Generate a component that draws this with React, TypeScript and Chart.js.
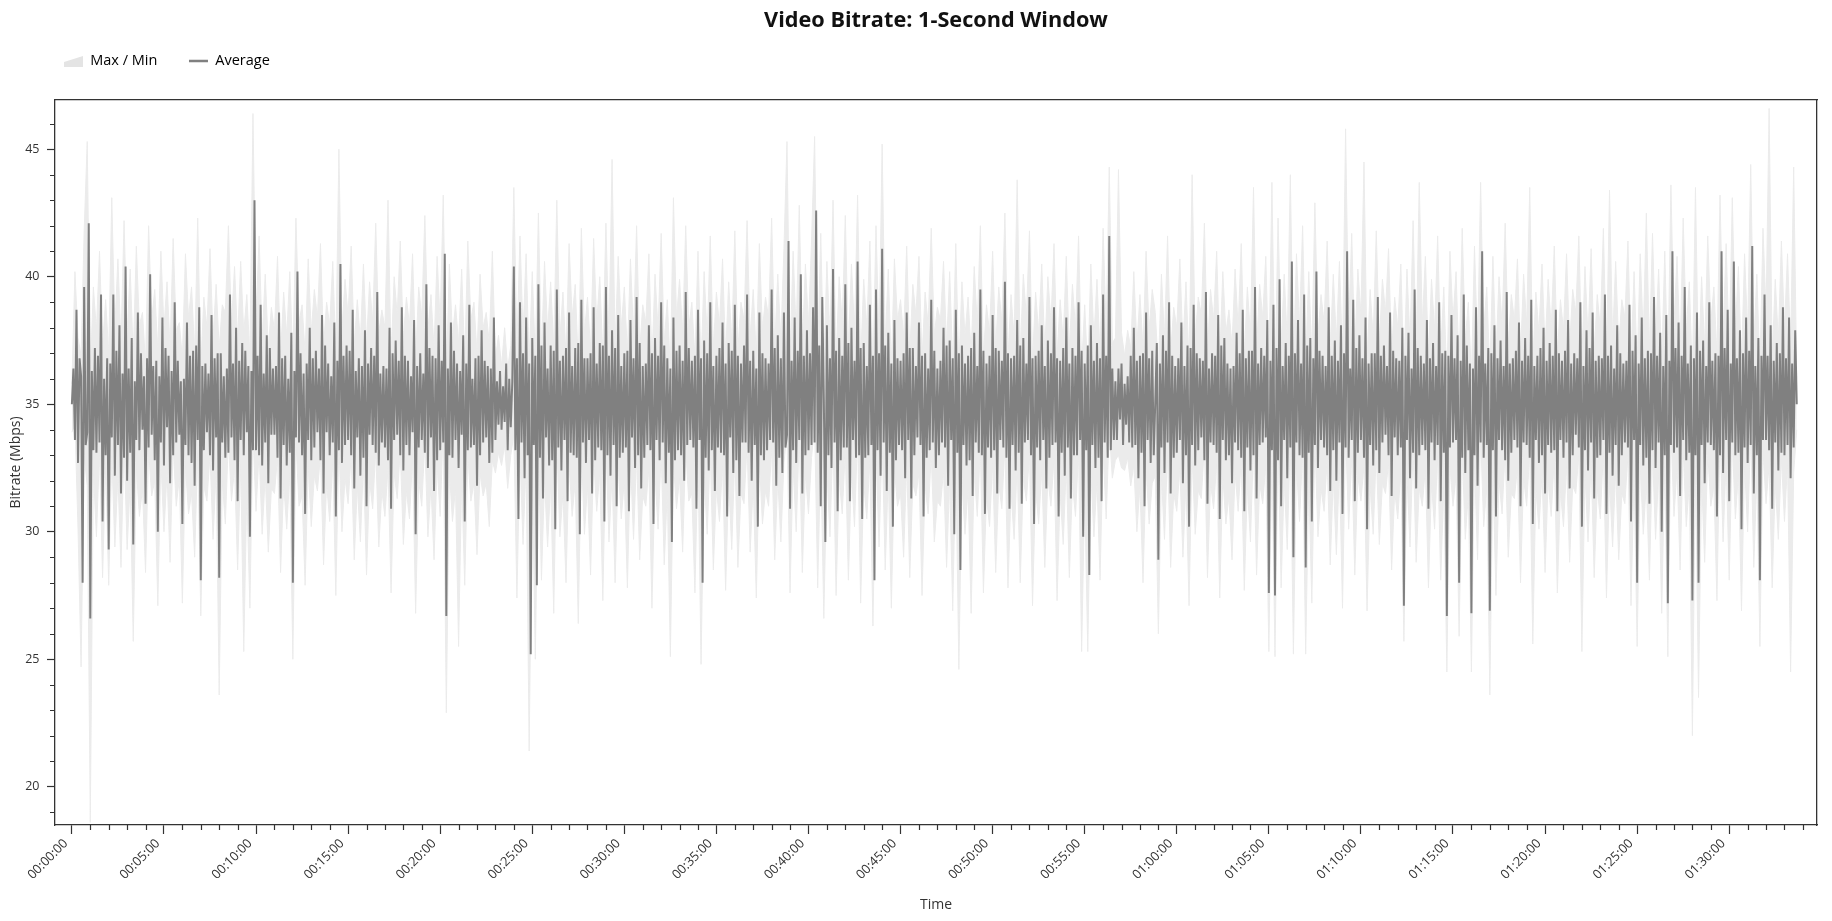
import React, { useEffect, useRef } from 'react';
import { Chart, registerables } from 'chart.js';

Chart.register(...registerables);

const TITLE = 'Video Bitrate: 1-Second Window';
const X_TITLE = 'Time';
const Y_TITLE = 'Bitrate (Mbps)';
const LEGEND_BAND = 'Max / Min';
const LEGEND_AVG = 'Average';

// Average: one value every 5 s (rows = one minute), 00:00:00 .. 01:33:40
const AVG_STEP_S = 5;
// Max / Min: one value every 10 s (rows = one minute), 00:00:00 .. 01:33:40
const BAND_STEP_S = 10;

const AVG = [
  35.0, 36.4, 33.6, 38.7, 32.7, 36.8, 36.1, 28.0, 39.6, 33.4, 33.9, 42.1,
  26.6, 36.3, 33.2, 37.2, 33.1, 36.9, 33.5, 39.3, 30.4, 36.0, 33.0, 36.8,
  29.3, 36.6, 33.7, 39.3, 32.2, 37.1, 33.4, 38.1, 31.5, 36.2, 32.9, 40.4,
  32.0, 36.4, 33.1, 37.6, 29.5, 35.9, 33.6, 38.6, 33.2, 37.0, 34.0, 36.1,
  31.1, 36.8, 33.3, 40.1, 33.8, 36.5, 32.8, 36.7, 30.0, 36.1, 33.5, 38.4,
  32.6, 37.2, 34.1, 36.9, 31.9, 36.3, 33.0, 39.0, 33.5, 36.7, 33.8, 35.9,
  30.3, 36.0, 33.4, 38.2, 33.0, 36.9, 32.7, 37.1, 31.8, 37.3, 33.6, 38.8,
  28.1, 36.5, 33.2, 36.6, 33.9, 36.2, 33.0, 38.5, 32.4, 36.8, 33.7, 37.0,
  28.2, 37.0, 33.5, 36.1, 32.9, 36.4, 33.1, 39.3, 33.7, 36.6, 32.8, 38.0,
  31.2, 36.7, 33.6, 37.4, 33.0, 37.1, 33.9, 36.5, 29.8, 36.3, 33.2, 43.0,
  33.2, 36.9, 33.0, 38.9, 32.6, 36.2, 33.5, 37.7, 31.9, 37.2, 33.8, 36.4,
  33.8, 36.5, 32.9, 38.6, 31.3, 36.8, 33.4, 36.9, 32.6, 36.0, 33.1, 37.8,
  28.0, 36.3, 33.7, 40.2, 33.5, 37.0, 33.0, 36.2, 30.7, 36.6, 33.6, 38.0,
  32.8, 36.8, 33.3, 37.1, 33.9, 36.4, 32.8, 38.5, 31.5, 37.3, 33.9, 36.6,
  33.0, 36.1, 33.5, 38.2, 30.6, 36.7, 33.2, 40.5, 32.7, 36.9, 33.4, 37.3,
  33.6, 37.1, 33.0, 38.7, 31.7, 36.3, 33.7, 36.8, 32.2, 36.5, 32.9, 37.9,
  31.0, 36.6, 33.8, 37.2, 33.4, 36.9, 33.1, 39.4, 32.6, 36.2, 33.5, 36.5,
  33.3, 36.4, 32.8, 38.0, 30.9, 37.0, 33.6, 37.5, 33.8, 36.7, 33.0, 38.8,
  32.4, 36.9, 33.4, 36.7, 33.0, 36.1, 33.9, 38.3, 29.9, 36.5, 33.3, 37.0,
  33.6, 36.2, 33.1, 39.7, 32.5, 37.2, 33.7, 36.9, 31.6, 36.8, 32.8, 38.1,
  33.2, 36.7, 33.5, 40.9, 26.7, 36.4, 33.0, 38.2, 32.9, 37.1, 33.6, 36.6,
  32.5, 36.3, 33.8, 37.7, 30.4, 36.6, 33.2, 38.9, 33.3, 36.0, 33.4, 36.8,
  31.8, 36.9, 33.0, 37.9, 33.5, 36.7, 33.7, 36.5, 32.7, 36.4, 33.1, 38.4,
  33.6, 35.9, 34.2, 36.3, 34.0, 35.7, 34.3, 36.6, 33.2, 36.0, 34.1, 35.9,
  40.4, 33.2, 36.8, 30.5, 39.0, 33.5, 37.0, 32.1, 38.4, 33.0, 36.6, 25.2,
  37.6, 33.4, 36.9, 27.9, 39.7, 32.9, 37.3, 31.3, 38.2, 33.7, 36.4, 32.6,
  37.3, 32.8, 37.1, 30.1, 39.5, 33.3, 36.7, 32.4, 36.9, 33.6, 37.2, 31.2,
  38.6, 33.1, 36.5, 33.0, 37.2, 32.9, 37.4, 29.9, 39.1, 33.5, 36.8, 32.7,
  36.8, 33.6, 37.0, 31.5, 38.8, 32.8, 36.6, 33.3, 37.4, 33.2, 37.3, 30.4,
  39.6, 33.0, 36.9, 32.2, 37.9, 33.4, 37.2, 31.0, 38.5, 32.9, 36.5, 33.1,
  37.0, 33.3, 37.1, 30.8, 38.3, 33.7, 36.8, 32.5, 39.2, 33.0, 37.4, 31.7,
  36.5, 32.9, 36.6, 33.4, 38.1, 33.2, 37.0, 30.3, 37.6, 33.6, 36.9, 32.8,
  39.0, 33.5, 37.3, 31.9, 36.8, 33.1, 36.4, 29.6, 38.4, 32.8, 37.1, 33.2,
  37.3, 33.0, 36.7, 32.0, 39.4, 33.4, 37.2, 33.6, 36.7, 33.3, 36.9, 30.9,
  38.7, 33.6, 36.8, 28.0, 37.5, 32.9, 37.0, 32.4, 39.0, 33.2, 36.5, 31.6,
  36.9, 33.3, 37.2, 33.1, 38.2, 33.0, 36.6, 30.6, 37.4, 33.7, 37.1, 32.3,
  38.9, 32.8, 36.9, 31.4, 36.6, 33.5, 37.3, 33.5, 39.3, 33.1, 36.7, 32.0,
  37.1, 33.4, 36.4, 30.2, 38.6, 33.0, 37.0, 32.8, 36.8, 33.2, 36.6, 33.6,
  39.5, 33.5, 37.2, 31.8, 37.7, 32.9, 36.8, 32.3, 38.6, 33.3, 33.8, 41.4,
  30.9, 36.7, 33.2, 38.4, 32.7, 37.1, 33.6, 40.1, 31.5, 36.9, 33.0, 37.9,
  33.2, 37.0, 33.4, 38.8, 33.5, 42.6, 33.1, 37.3, 31.0, 39.2, 35.2, 29.6,
  38.1, 33.0, 36.8, 32.5, 40.3, 33.5, 37.1, 30.8, 37.6, 32.8, 36.9, 33.3,
  39.7, 33.3, 37.4, 31.2, 38.0, 33.6, 36.7, 32.9, 40.6, 33.0, 37.2, 30.5,
  37.4, 32.9, 36.5, 33.0, 38.9, 33.4, 36.9, 28.1, 39.5, 33.2, 37.0, 32.2,
  41.1, 33.5, 37.3, 31.6, 37.8, 33.1, 36.6, 30.2, 38.3, 32.8, 36.8, 33.4,
  36.7, 33.2, 37.0, 32.1, 38.6, 33.6, 37.2, 31.3, 37.2, 33.0, 36.5, 33.7,
  38.2, 33.4, 36.9, 30.6, 37.0, 32.9, 36.4, 33.2, 39.1, 33.5, 37.1, 32.5,
  36.4, 33.0, 36.7, 33.5, 38.0, 33.3, 37.3, 31.8, 37.5, 33.6, 36.8, 29.9,
  38.7, 33.1, 37.0, 28.5, 37.3, 33.4, 36.6, 32.6, 36.9, 32.8, 37.2, 31.4,
  37.8, 33.5, 36.5, 33.1, 39.5, 33.0, 37.1, 30.7, 36.6, 33.3, 36.9, 32.9,
  38.5, 33.2, 37.2, 31.5, 37.1, 33.6, 36.7, 33.3, 39.8, 32.9, 37.0, 30.9,
  36.8, 33.4, 36.9, 32.4, 38.3, 33.1, 37.3, 31.1, 37.6, 33.5, 36.6, 33.6,
  39.2, 33.0, 36.8, 30.3, 36.9, 33.3, 37.1, 32.8, 38.1, 33.6, 36.5, 31.7,
  37.5, 32.9, 37.0, 33.4, 38.8, 33.5, 36.8, 30.6, 36.7, 33.1, 37.2, 32.2,
  38.4, 33.3, 36.6, 31.3, 37.2, 33.0, 36.9, 33.0, 39.0, 33.6, 37.1, 29.8,
  36.6, 33.2, 37.3, 28.3, 38.1, 33.4, 36.7, 32.5, 37.4, 32.9, 36.8, 31.2,
  39.3, 33.5, 36.9, 32.9, 41.6, 33.2, 36.4, 33.6, 35.9, 33.6, 36.4, 34.4,
  36.6, 33.4, 35.8, 34.2, 36.1, 33.5, 36.9, 33.3, 38.0, 33.4, 36.7, 32.1,
  36.9, 33.1, 37.0, 31.0, 38.6, 33.6, 36.8, 32.7, 37.1, 33.0, 35.1, 37.4,
  28.9, 36.6, 33.3, 37.7, 32.3, 37.1, 33.5, 39.0, 31.5, 36.9, 32.9, 36.5,
  33.1, 36.8, 33.6, 38.2, 31.9, 36.5, 33.0, 37.3, 30.2, 37.2, 33.4, 38.9,
  32.6, 37.0, 33.2, 36.8, 33.7, 36.7, 32.8, 39.4, 31.1, 36.4, 33.5, 37.0,
  33.4, 36.9, 33.1, 38.5, 30.5, 37.3, 33.6, 37.6, 32.8, 36.6, 33.0, 36.4,
  31.9, 36.5, 33.5, 37.8, 33.2, 37.0, 32.9, 38.7, 30.8, 36.8, 33.3, 37.1,
  32.4, 37.1, 33.0, 39.6, 31.3, 36.6, 33.4, 37.2, 33.5, 36.9, 33.7, 38.3,
  27.6, 36.7, 33.2, 38.9, 27.5, 37.2, 32.8, 39.9, 31.0, 36.5, 33.6, 37.4,
  32.1, 36.9, 33.3, 40.6, 29.0, 37.0, 33.5, 38.3, 33.0, 36.6, 32.9, 39.3,
  28.6, 37.3, 33.1, 37.6, 30.4, 36.8, 33.4, 40.2, 32.5, 37.1, 33.6, 36.9,
  33.3, 36.5, 33.0, 38.8, 31.6, 36.9, 33.2, 37.5, 32.0, 36.7, 33.5, 38.1,
  30.7, 37.0, 33.3, 41.0, 32.9, 36.4, 33.6, 39.1, 31.2, 37.2, 33.1, 37.7,
  33.6, 36.8, 32.9, 38.4, 30.1, 36.6, 33.4, 37.0, 32.6, 37.0, 33.2, 39.2,
  32.3, 36.9, 33.5, 37.3, 33.8, 36.5, 33.0, 38.6, 31.4, 37.1, 33.7, 36.8,
  33.0, 36.7, 33.3, 38.0, 27.1, 36.9, 33.6, 37.8, 32.1, 36.4, 33.1, 39.5,
  31.7, 37.2, 33.0, 36.9, 33.4, 36.6, 33.2, 38.3, 30.9, 36.8, 33.5, 37.4,
  32.8, 36.5, 33.4, 39.0, 31.2, 37.0, 33.1, 37.1, 26.7, 36.9, 33.3, 38.5,
  33.5, 36.8, 33.6, 37.7, 28.0, 36.7, 32.9, 39.3, 32.3, 37.3, 33.2, 36.6,
  26.8, 36.4, 33.0, 38.8, 31.8, 36.9, 33.5, 41.0, 32.9, 36.6, 33.4, 37.2,
  26.9, 37.0, 33.2, 38.1, 30.6, 36.8, 33.6, 37.5, 33.2, 36.5, 32.8, 39.4,
  32.0, 36.6, 33.1, 36.8, 33.6, 37.1, 33.3, 38.2, 31.0, 36.7, 33.5, 37.6,
  33.4, 36.9, 32.9, 39.1, 30.3, 36.5, 33.6, 36.9, 32.7, 37.2, 33.0, 38.0,
  31.5, 36.7, 33.4, 37.4, 33.1, 36.9, 33.2, 38.7, 30.8, 37.0, 33.6, 36.7,
  32.9, 37.1, 33.5, 38.3, 31.7, 36.6, 33.0, 37.0, 33.8, 36.8, 33.3, 39.0,
  30.2, 36.5, 33.2, 37.9, 32.4, 37.2, 33.5, 38.6, 31.3, 36.7, 32.9, 36.9,
  33.0, 36.8, 33.6, 39.3, 30.7, 36.9, 33.1, 37.3, 32.2, 36.4, 33.4, 38.1,
  31.8, 37.0, 33.0, 36.6, 33.5, 36.7, 33.3, 38.9, 30.4, 37.1, 33.6, 37.7,
  28.0, 36.6, 33.4, 38.4, 32.6, 36.8, 32.9, 37.1, 31.1, 37.0, 33.2, 39.2,
  32.5, 36.9, 33.5, 37.8, 30.0, 36.5, 33.0, 38.5, 27.2, 36.7, 33.4, 41.0,
  33.1, 37.2, 33.3, 38.2, 31.4, 36.9, 33.6, 39.6, 32.8, 36.6, 33.1, 37.3,
  27.3, 36.8, 33.0, 38.6, 28.0, 37.1, 33.4, 37.5, 31.9, 36.5, 33.5, 39.0,
  33.4, 36.7, 33.2, 37.0, 30.6, 36.9, 33.0, 41.0, 32.3, 37.2, 33.6, 38.7,
  31.2, 36.6, 33.5, 40.6, 33.0, 36.8, 33.1, 37.9, 30.1, 37.0, 33.3, 38.4,
  32.7, 37.1, 33.4, 41.2, 31.5, 36.5, 33.0, 37.6, 28.1, 36.9, 33.6, 39.3,
  33.6, 36.9, 33.2, 38.1, 30.9, 36.7, 33.5, 37.4, 32.4, 37.0, 33.1, 38.8,
  33.0, 36.8, 33.4, 38.4, 32.1, 36.6, 33.3, 37.9, 35.0,
];

const MAX = [
  35.8, 40.2, 37.6, 36.9, 41.8, 45.3,
  36.2, 39.6, 37.9, 41.0, 37.3, 39.1,
  37.0, 43.1, 38.0, 40.7, 37.4, 42.2,
  37.7, 40.3, 36.9, 41.2, 38.1, 38.6,
  36.6, 42.0, 38.3, 39.5, 37.1, 41.0,
  38.0, 39.8, 37.2, 41.5, 37.9, 38.2,
  36.8, 40.9, 38.4, 39.6, 37.0, 42.3,
  36.4, 39.2, 38.0, 41.1, 37.6, 39.7,
  37.2, 38.9, 38.6, 42.0, 38.1, 40.4,
  37.5, 40.6, 37.8, 39.3, 36.9, 46.4,
  38.3, 41.6, 37.5, 40.1, 37.2, 38.8,
  37.9, 40.8, 36.9, 39.4, 37.7, 40.2,
  36.7, 42.3, 38.2, 38.9, 37.0, 40.7,
  37.8, 39.5, 38.4, 41.3, 37.3, 39.0,
  38.1, 40.6, 37.0, 45.0, 37.9, 39.9,
  38.5, 41.2, 37.3, 39.1, 37.5, 40.5,
  37.4, 39.8, 38.2, 42.1, 37.8, 38.7,
  38.0, 43.0, 36.8, 40.0, 38.5, 41.4,
  37.6, 39.2, 38.1, 40.9, 36.8, 39.6,
  38.4, 42.4, 37.9, 39.3, 37.2, 40.8,
  38.2, 43.2, 36.1, 40.5, 37.7, 38.9,
  37.4, 40.3, 36.7, 41.4, 38.3, 39.0,
  37.0, 40.1, 38.0, 38.6, 37.4, 41.0,
  36.8, 37.7, 36.5, 38.0, 36.4, 37.3,
  43.5, 37.3, 41.6, 37.8, 40.9, 36.6,
  40.2, 36.8, 42.5, 37.0, 40.6, 37.9,
  39.8, 37.2, 43.0, 37.6, 39.4, 36.9,
  41.3, 38.4, 39.7, 36.6, 41.9, 37.8,
  39.2, 37.1, 41.5, 38.2, 40.0, 36.9,
  42.1, 37.5, 44.6, 37.3, 40.8, 38.0,
  39.6, 37.0, 40.7, 37.7, 42.0, 37.1,
  38.9, 38.2, 40.9, 36.7, 40.1, 37.9,
  41.7, 37.4, 39.1, 36.3, 43.1, 38.4,
  39.9, 37.8, 42.0, 38.0, 39.0, 36.8,
  41.0, 36.5, 40.2, 37.6, 41.6, 37.2,
  39.4, 38.1, 40.7, 36.9, 39.8, 37.4,
  41.8, 37.1, 39.0, 38.3, 42.2, 37.6,
  39.5, 36.9, 41.3, 37.9, 39.2, 38.4,
  42.3, 37.3, 40.1, 37.5, 41.1, 45.3,
  36.9, 41.0, 37.8, 42.8, 37.2, 40.5,
  38.1, 41.4, 45.5, 37.0, 41.7, 36.4,
  40.6, 37.6, 43.0, 36.8, 40.0, 38.2,
  42.4, 37.2, 40.5, 37.9, 43.2, 36.7,
  39.9, 38.0, 41.4, 36.3, 42.0, 37.5,
  45.2, 37.4, 40.3, 36.5, 40.7, 38.3,
  39.1, 37.6, 41.2, 37.0, 39.7, 38.5,
  40.8, 36.8, 39.4, 38.1, 41.9, 37.7,
  38.8, 38.3, 40.6, 37.3, 40.2, 36.6,
  41.3, 36.4, 39.8, 37.7, 39.2, 37.0,
  40.4, 38.1, 42.0, 36.9, 38.9, 37.8,
  41.0, 37.2, 39.6, 38.2, 42.5, 36.8,
  39.3, 37.6, 43.8, 37.0, 40.1, 38.4,
  41.8, 36.7, 39.4, 37.8, 40.5, 37.1,
  40.0, 38.2, 41.3, 36.9, 39.1, 37.5,
  40.8, 37.1, 39.7, 38.0, 41.6, 36.5,
  38.9, 36.2, 40.5, 37.6, 39.9, 37.0,
  41.9, 37.9, 44.3, 37.4, 37.6, 44.2,
  37.8, 36.9, 37.9, 37.2, 40.2, 37.3,
  39.3, 37.2, 41.0, 37.9, 39.5, 38.6,
  36.4, 40.1, 37.6, 41.6, 37.0, 38.8,
  38.0, 40.7, 37.3, 39.8, 36.6, 44.0,
  37.6, 39.2, 38.5, 42.1, 37.0, 39.5,
  38.3, 41.0, 36.8, 40.2, 37.8, 38.7,
  37.3, 40.3, 38.0, 41.3, 36.9, 39.6,
  37.7, 43.5, 37.1, 39.7, 38.4, 40.8,
  36.3, 43.7, 36.0, 42.3, 37.2, 40.1,
  37.5, 44.0, 36.5, 40.9, 38.1, 42.0,
  36.6, 40.2, 36.9, 42.9, 37.7, 39.3,
  38.2, 41.4, 37.2, 40.1, 37.5, 40.6,
  36.9, 45.8, 37.9, 41.7, 37.1, 40.3,
  38.5, 44.5, 36.7, 39.5, 37.6, 41.8,
  37.4, 39.9, 38.6, 41.1, 37.0, 39.2,
  38.0, 40.5, 36.2, 40.3, 37.4, 42.2,
  37.1, 43.7, 38.1, 40.8, 36.8, 39.9,
  37.9, 41.6, 37.0, 39.6, 35.9, 41.0,
  38.3, 40.2, 36.4, 41.9, 37.5, 39.0,
  36.0, 41.2, 37.2, 43.7, 37.9, 39.6,
  36.2, 40.8, 36.9, 40.0, 38.1, 42.1,
  37.3, 39.3, 38.3, 40.7, 36.9, 40.1,
  38.1, 43.5, 36.6, 39.4, 37.8, 40.5,
  37.2, 39.9, 38.0, 41.2, 36.9, 39.1,
  37.9, 40.9, 37.3, 39.5, 38.6, 41.6,
  36.7, 40.4, 37.6, 41.1, 37.0, 39.3,
  38.0, 41.9, 36.8, 43.4, 37.5, 40.6,
  37.3, 39.1, 38.4, 41.4, 36.7, 40.2,
  36.5, 40.9, 37.7, 42.5, 37.1, 41.7,
  37.6, 40.3, 36.6, 41.0, 36.2, 43.6,
  38.1, 40.8, 37.0, 42.3, 37.9, 39.8,
  36.1, 43.5, 36.4, 40.0, 37.2, 41.6,
  38.2, 39.6, 36.9, 43.2, 37.7, 41.3,
  37.0, 43.1, 37.9, 40.4, 36.6, 40.9,
  37.8, 44.4, 37.3, 40.1, 36.3, 41.9,
  38.6, 46.6, 36.8, 39.9, 37.5, 41.4,
  38.0, 40.9, 37.2, 44.3, 36.0,
];

const MIN = [
  33.9, 34.2, 30.1, 24.7, 33.0, 31.8,
  18.6, 32.4, 29.8, 33.1, 28.2, 32.6,
  27.9, 33.0, 29.4, 32.2, 28.6, 33.5,
  29.3, 31.9, 25.7, 32.5, 30.6, 31.7,
  28.4, 33.2, 31.4, 32.0, 27.1, 32.8,
  30.0, 32.3, 28.8, 33.4, 31.0, 32.1,
  27.2, 32.6, 30.7, 31.5, 29.0, 33.1,
  26.7, 31.8, 31.2, 33.0, 29.7, 32.4,
  23.6, 32.0, 30.3, 33.6, 31.2, 32.5,
  28.5, 32.7, 25.3, 31.6, 27.0, 33.9,
  30.8, 33.1, 29.9, 32.2, 29.2, 31.7,
  31.5, 32.9, 28.4, 31.9, 30.1, 32.3,
  25.0, 33.6, 31.0, 31.4, 27.9, 32.6,
  30.2, 32.2, 31.6, 33.0, 28.7, 31.9,
  30.4, 32.8, 27.5, 33.4, 30.0, 32.1,
  31.1, 33.0, 28.9, 31.8, 29.6, 32.7,
  28.3, 32.0, 30.9, 33.2, 29.4, 31.6,
  30.6, 32.5, 27.6, 32.3, 31.3, 33.2,
  29.5, 31.6, 30.5, 32.9, 26.8, 32.0,
  31.0, 33.5, 29.8, 31.8, 28.9, 32.6,
  30.6, 34.1, 22.9, 32.4, 30.4, 31.7,
  25.5, 32.1, 27.9, 33.0, 31.2, 31.9,
  29.1, 32.3, 31.4, 31.9, 30.2, 32.8,
  32.3, 33.1, 32.6, 33.4, 31.7, 33.0,
  33.8, 27.4, 33.0, 29.5, 32.7, 21.4,
  32.4, 25.0, 33.3, 28.1, 32.0, 29.4,
  31.9, 26.8, 33.6, 29.8, 31.5, 28.0,
  32.7, 30.6, 32.0, 26.4, 33.2, 29.9,
  31.8, 28.3, 32.9, 30.8, 32.3, 27.3,
  33.5, 29.6, 32.2, 28.0, 32.6, 30.5,
  32.0, 27.8, 32.8, 29.7, 33.0, 28.9,
  31.4, 31.0, 32.5, 27.0, 32.2, 30.1,
  33.1, 28.7, 31.6, 25.1, 32.7, 30.9,
  32.1, 29.2, 33.3, 31.2, 31.5, 27.6,
  32.9, 24.8, 32.2, 29.9, 33.1, 28.5,
  31.7, 30.4, 32.6, 27.7, 32.0, 29.3,
  33.0, 28.6, 31.5, 31.1, 33.4, 29.2,
  31.9, 27.4, 32.8, 30.3, 31.6, 31.0,
  33.3, 28.9, 32.1, 29.6, 32.7, 33.9,
  27.6, 32.6, 30.0, 33.7, 28.4, 32.3,
  30.7, 32.9, 34.2, 27.8, 33.0, 26.6,
  32.4, 29.8, 33.7, 27.5, 32.1, 30.7,
  33.2, 28.1, 32.3, 30.2, 33.8, 27.2,
  31.9, 30.5, 32.8, 26.3, 33.1, 29.4,
  33.6, 28.5, 32.2, 27.0, 32.5, 31.0,
  31.5, 29.0, 32.7, 28.2, 31.9, 31.4,
  32.3, 27.5, 31.8, 30.7, 33.0, 29.6,
  31.2, 31.0, 32.4, 28.6, 32.0, 26.9,
  32.8, 24.6, 32.0, 29.9, 31.7, 26.8,
  32.4, 30.6, 33.2, 27.6, 31.4, 30.2,
  32.7, 28.4, 31.9, 30.9, 33.4, 27.8,
  31.6, 29.7, 32.6, 28.0, 32.1, 31.2,
  33.0, 27.1, 31.7, 30.3, 32.4, 28.6,
  32.1, 31.0, 32.9, 27.3, 31.5, 29.5,
  32.6, 28.2, 31.9, 30.6, 33.1, 25.3,
  31.5, 25.3, 32.4, 29.8, 32.0, 28.1,
  33.2, 30.5, 34.0, 32.1, 32.8, 33.0,
  32.5, 32.4, 32.9, 31.8, 32.6, 30.0,
  31.8, 28.0, 32.5, 30.3, 31.9, 32.2,
  26.0, 32.2, 29.7, 33.1, 28.6, 31.5,
  30.8, 32.5, 29.0, 31.9, 27.1, 33.0,
  29.9, 31.6, 31.3, 33.4, 28.2, 31.9,
  30.9, 32.7, 27.4, 32.2, 30.3, 31.4,
  28.9, 32.3, 30.8, 32.8, 27.7, 31.8,
  29.6, 33.4, 28.3, 31.9, 31.1, 32.6,
  25.3, 33.0, 25.1, 33.5, 27.8, 32.0,
  29.3, 33.7, 25.2, 32.6, 30.4, 33.2,
  25.2, 32.0, 27.2, 33.6, 29.8, 31.7,
  30.8, 32.8, 28.7, 32.1, 29.1, 32.5,
  27.0, 33.9, 30.1, 33.0, 28.3, 32.2,
  31.2, 32.6, 26.9, 31.8, 29.9, 33.1,
  29.5, 31.9, 31.5, 32.7, 28.5, 31.6,
  30.5, 32.4, 25.7, 32.2, 29.4, 33.3,
  28.8, 31.7, 31.0, 32.5, 27.8, 31.9,
  30.1, 33.0, 28.1, 31.8, 24.5, 32.6,
  31.0, 32.2, 25.9, 33.2, 29.7, 31.5,
  24.5, 32.7, 28.9, 33.8, 30.2, 31.8,
  23.6, 32.4, 27.5, 32.0, 30.7, 33.2,
  29.0, 31.5, 31.3, 32.5, 28.0, 32.1,
  31.0, 33.1, 25.6, 31.7, 30.1, 32.3,
  28.4, 32.0, 30.6, 32.9, 27.6, 31.6,
  30.2, 32.6, 28.8, 31.8, 31.5, 33.0,
  25.3, 32.3, 29.6, 32.8, 28.2, 31.7,
  30.5, 33.2, 27.4, 32.0, 29.4, 32.4,
  28.9, 31.5, 31.1, 33.0, 27.1, 32.2,
  25.5, 32.6, 29.9, 31.9, 28.1, 33.1,
  29.7, 32.3, 26.8, 32.7, 25.1, 34.0,
  30.6, 32.5, 28.5, 33.3, 30.2, 31.9,
  22.0, 32.8, 23.5, 32.1, 28.8, 33.1,
  31.0, 31.8, 27.3, 33.9, 29.6, 32.8,
  28.1, 33.6, 30.5, 32.3, 26.9, 32.6,
  30.0, 33.9, 28.6, 32.2, 25.5, 33.2,
  31.1, 32.6, 27.8, 31.9, 29.7, 32.9,
  30.4, 32.7, 24.5, 32.3, 34.0,
];

// axis ranges and tick spacing (seconds / Mbps)
const X_MIN = -55;
const X_MAX = 5686;
const Y_MIN = 18.5;
const Y_MAX = 46.93;
const X_MAJOR_STEP = 300;
const X_MINOR_STEP = 60;
const Y_MAJOR_STEP = 5;
const Y_MINOR_STEP = 1;

const AVG_COLOR = '#808080';
const BAND_COLOR = '#ebebeb';
const AXIS_COLOR = '#333333';
const TEXT_COLOR = '#333333';
const FONT = "'Open Sans', 'Noto Sans', sans-serif";

const fmtTime = (sec: number) => {
  const s = Math.round(sec);
  const h = Math.floor(s / 3600);
  const m = Math.floor((s % 3600) / 60);
  const ss = s % 60;
  return [h, m, ss].map((n) => String(n).padStart(2, '0')).join(':');
};

const stepTicks = (step: number) => (scale: any) => {
  const ticks: { value: number }[] = [];
  for (let v = Math.ceil(scale.min / step) * step; v <= scale.max; v += step) {
    ticks.push({ value: v });
  }
  scale.ticks = ticks;
};

const minorTicksPlugin = {
  id: 'minorTicks',
  afterDraw(chart: any) {
    const { ctx, chartArea } = chart;
    const x = chart.scales.x;
    const y = chart.scales.y;
    ctx.save();
    ctx.strokeStyle = AXIS_COLOR;
    ctx.lineWidth = 1.2;
    ctx.beginPath();
    for (let v = Math.ceil(x.min / X_MINOR_STEP) * X_MINOR_STEP; v <= x.max; v += X_MINOR_STEP) {
      if (v % X_MAJOR_STEP === 0) continue;
      const px = Math.round(x.getPixelForValue(v)) + 0.5;
      ctx.moveTo(px, chartArea.bottom);
      ctx.lineTo(px, chartArea.bottom + 5);
    }
    for (let v = Math.ceil(y.min / Y_MINOR_STEP) * Y_MINOR_STEP; v <= y.max; v += Y_MINOR_STEP) {
      if (v % Y_MAJOR_STEP === 0) continue;
      const py = Math.round(y.getPixelForValue(v)) + 0.5;
      ctx.moveTo(chartArea.left - 5, py);
      ctx.lineTo(chartArea.left, py);
    }
    ctx.stroke();
    ctx.restore();
  },
};

function makeBandIcon() {
  const c = document.createElement('canvas');
  c.width = 19;
  c.height = 14;
  const g = c.getContext('2d')!;
  g.fillStyle = '#e4e4e4';
  g.beginPath();
  g.moveTo(0, 13);
  g.lineTo(19, 13);
  g.lineTo(19, 2);
  g.lineTo(0, 8);
  g.closePath();
  g.fill();
  return c;
}

export default function App() {
  const canvasRef = useRef<HTMLCanvasElement | null>(null);

  useEffect(() => {
    if (!canvasRef.current) return;
    const toPoints = (arr: number[], step: number) => arr.map((v, i) => ({ x: i * step, y: v }));
    const bandIcon = makeBandIcon();

    const chart = new Chart(canvasRef.current, {
      type: 'line',
      data: {
        datasets: [
          {
            label: LEGEND_BAND,
            data: toPoints(MAX, BAND_STEP_S),
            borderColor: BAND_COLOR,
            backgroundColor: BAND_COLOR,
            borderWidth: 1,
            borderJoinStyle: 'bevel',
            pointRadius: 0,
            fill: '+1',
            order: 1,
            xAxisID: 'x',
            yAxisID: 'y',
          },
          {
            label: 'Min',
            data: toPoints(MIN, BAND_STEP_S),
            borderColor: BAND_COLOR,
            backgroundColor: BAND_COLOR,
            borderWidth: 1,
            borderJoinStyle: 'bevel',
            pointRadius: 0,
            fill: false,
            order: 2,
            xAxisID: 'x',
            yAxisID: 'y',
          },
          {
            label: LEGEND_AVG,
            data: toPoints(AVG, AVG_STEP_S),
            borderColor: AVG_COLOR,
            backgroundColor: AVG_COLOR,
            borderWidth: 2,
            borderJoinStyle: 'bevel',
            pointRadius: 0,
            fill: false,
            order: 0,
            xAxisID: 'x',
            yAxisID: 'y',
          },
        ],
      },
      options: {
        animation: false,
        responsive: false,
        devicePixelRatio: 1,
        events: [],
        layout: { padding: 0 },
        plugins: {
          title: {
            display: true,
            text: TITLE,
            fullSize: false,
            color: '#111111',
            font: { family: FONT, size: 21.7, weight: 'bold' },
            padding: { top: 7.8, bottom: 10.9 },
          },
          legend: {
            display: true,
            position: 'top',
            align: 'start',
            fullSize: false,
            labels: {
              usePointStyle: true,
              pointStyleWidth: 19,
              padding: 9,
              color: TEXT_COLOR,
              font: { family: FONT, size: 14.5 },
              generateLabels: () => [
                {
                  text: LEGEND_BAND + '      ',
                  pointStyle: bandIcon as any,
                  fillStyle: BAND_COLOR,
                  strokeStyle: BAND_COLOR,
                  lineWidth: 0,
                  hidden: false,
                  datasetIndex: 0,
                },
                {
                  text: LEGEND_AVG,
                  pointStyle: 'line',
                  fillStyle: AVG_COLOR,
                  strokeStyle: AVG_COLOR,
                  lineWidth: 2.5,
                  hidden: false,
                  datasetIndex: 2,
                },
              ],
            },
          },
          tooltip: { enabled: false },
        },
        scales: {
          x: {
            type: 'linear',
            position: 'bottom',
            min: X_MIN,
            max: X_MAX,
            afterBuildTicks: stepTicks(X_MAJOR_STEP),
            afterFit: (s: any) => {
              s.height = 96;
            },
            ticks: {
              autoSkip: false,
              maxRotation: 45,
              minRotation: 45,
              padding: 2,
              labelOffset: -6,
              color: TEXT_COLOR,
              font: { family: FONT, size: 12.8 },
              callback: (v: any) => fmtTime(Number(v)),
            },
            grid: {
              display: true,
              drawOnChartArea: false,
              drawTicks: true,
              tickLength: 9,
              tickColor: AXIS_COLOR,
              tickWidth: 1.2,
            },
            border: { display: true, color: AXIS_COLOR, width: 1.3 },
            title: {
              display: true,
              text: X_TITLE,
              color: TEXT_COLOR,
              font: { family: FONT, size: 14 },
              padding: { top: 4, bottom: 8 },
            },
          },
          y: {
            type: 'linear',
            position: 'left',
            min: Y_MIN,
            max: Y_MAX,
            afterBuildTicks: stepTicks(Y_MAJOR_STEP),
            afterFit: (s: any) => {
              s.width = 55;
            },
            ticks: {
              autoSkip: false,
              padding: 7.5,
              color: TEXT_COLOR,
              font: { family: FONT, size: 12.5 },
            },
            grid: {
              display: true,
              drawOnChartArea: false,
              drawTicks: true,
              tickLength: 8,
              tickColor: AXIS_COLOR,
              tickWidth: 1.2,
            },
            border: { display: true, color: AXIS_COLOR, width: 1.3 },
            title: {
              display: true,
              text: Y_TITLE,
              color: TEXT_COLOR,
              font: { family: FONT, size: 14 },
              padding: { top: 8, bottom: 0 },
            },
          },
          xTop: {
            type: 'linear',
            position: 'top',
            display: true,
            grid: { display: false, drawTicks: false },
            ticks: { display: false },
            border: { display: true, color: AXIS_COLOR, width: 1.3 },
            afterFit: (s: any) => {
              s.height = 21.75;
            },
          },
          yRight: {
            type: 'linear',
            position: 'right',
            display: true,
            grid: { display: false, drawTicks: false },
            ticks: { display: false },
            border: { display: true, color: AXIS_COLOR, width: 1.3 },
            afterFit: (s: any) => {
              s.width = 15;
            },
          },
        },
      } as any,
      plugins: [minorTicksPlugin],
    });

    return () => chart.destroy();
  }, []);

  return (
    <div style={{ position: 'fixed', left: 0, top: 0, width: 1832, height: 921, background: '#ffffff' }}>
      <canvas ref={canvasRef} width={1832} height={921} style={{ display: 'block' }} />
    </div>
  );
}
